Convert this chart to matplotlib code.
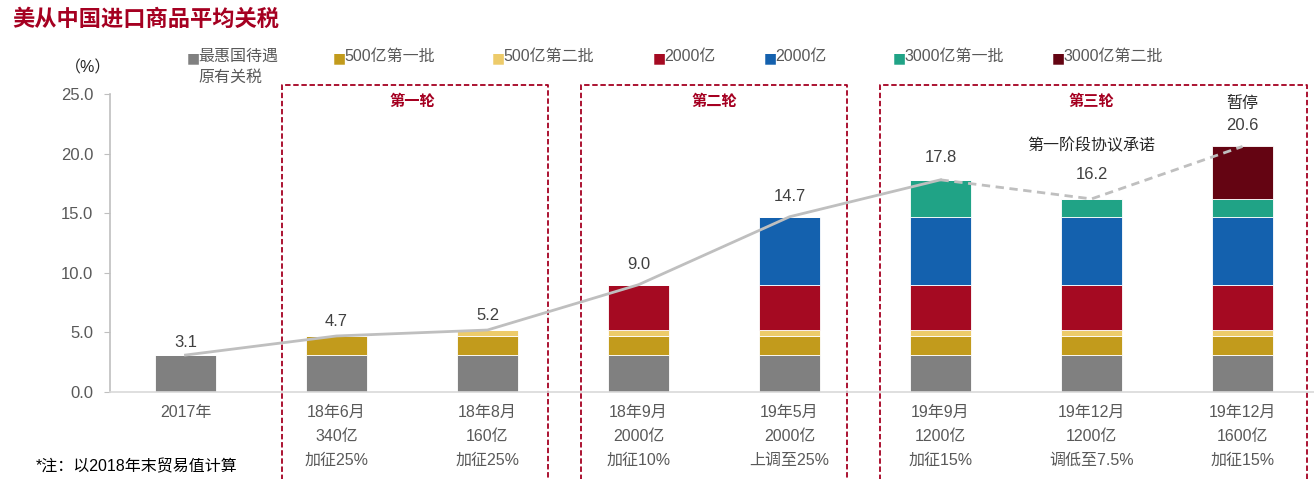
import matplotlib.pyplot as plt
import matplotlib.transforms as mtransforms
import numpy as np

plt.rcParams['font.family'] = ['Liberation Sans', 'Noto Sans CJK SC']

# Data
categories = ['2017年', '18年6月\n340亿\n加征25%', '18年8月\n160亿\n加征25%',
              '18年9月\n2000亿\n加征10%', '19年5月\n2000亿\n上调至25%',
              '19年9月\n1200亿\n加征15%', '19年12月\n1200亿\n调低至7.5%',
              '19年12月\n1600亿\n加征15%']
series_names = ['最惠国待遇\n原有关税', '500亿第一批', '500亿第二批', '2000亿', '2000亿',
                '3000亿第一批', '3000亿第二批']
mfn = [3.1, 3.1, 3.1, 3.1, 3.1, 3.1, 3.1, 3.1]
batch_500_1 = [0, 1.6, 1.6, 1.6, 1.6, 1.6, 1.6, 1.6]
batch_500_2 = [0, 0, 0.5, 0.5, 0.5, 0.5, 0.5, 0.5]
batch_2000_a = [0, 0, 0, 3.8, 3.8, 3.8, 3.8, 3.8]
batch_2000_b = [0, 0, 0, 0, 5.7, 5.7, 5.7, 5.7]
batch_3000_1 = [0, 0, 0, 0, 0, 3.1, 1.5, 1.5]
batch_3000_2 = [0, 0, 0, 0, 0, 0, 0, 4.4]
totals = [3.1, 4.7, 5.2, 9.0, 14.7, 17.8, 16.2, 20.6]
rounds = ['第一轮', '第二轮', '第三轮']

colors = ['#808080', '#C29B1C', '#EDCB6A', '#A50A22', '#1461AE', '#20A386', '#640412']
series = [mfn, batch_500_1, batch_500_2, batch_2000_a, batch_2000_b, batch_3000_1, batch_3000_2]
red = '#A50021'
txt = '#595959'

fig = plt.figure(figsize=(13.14, 4.79), dpi=100)
ax = fig.add_axes([110 / 1314, 87 / 479, 1204 / 1314, 298 / 479])

x = np.arange(len(categories))
bottom = np.zeros(len(categories))
for vals, c in zip(series, colors):
    vals = np.array(vals, dtype=float)
    ax.bar(x, vals, 0.4, bottom=bottom, color=c, edgecolor='white', linewidth=0.6, zorder=2)
    bottom += vals

# trend line: solid up to 19年9月, dashed afterwards
ax.plot(x[:6], totals[:6], color='#BFBFBF', lw=2, zorder=3)
ax.plot(x[5:], totals[5:], color='#BFBFBF', lw=2, ls=(0, (3, 2)), zorder=3)

# value labels (offset in pixels above bar top)
offsets = [13, 14, 15, 20, 20, 22, 24, 21]
for i, (t, o) in enumerate(zip(totals, offsets)):
    ax.annotate(f'{t:.1f}', (i, t), xytext=(0, o * 0.72), textcoords='offset points',
                ha='center', va='center', fontsize=12, color='#404040')
ax.text(7, 24.2, '暂停', ha='center', va='center', fontsize=11.5, color='#262626')
ax.text(6, 20.7, '第一阶段协议承诺', ha='center', va='center', fontsize=11.5, color='#262626')

ax.set_xlim(-0.5, -0.5 + 1204 / 151)
ax.set_ylim(0, 25)
ax.set_yticks(np.arange(0, 25.1, 5))
ax.set_yticklabels([f'{v:.1f}' for v in np.arange(0, 25.1, 5)])
ax.set_xticks(x)
ax.set_xticklabels(categories, linespacing=1.75)
ax.tick_params(axis='x', length=0, pad=9, labelsize=11.5, colors=txt)
ax.tick_params(axis='y', length=4, color='#BFBFBF', labelsize=12, colors=txt, pad=8)
for s in ['top', 'right']:
    ax.spines[s].set_visible(False)
ax.spines['left'].set_color('#BFBFBF')
ax.spines['bottom'].set_color('#D9D9D9')
ax.spines['left'].set_linewidth(1.2)
ax.spines['bottom'].set_linewidth(1.2)

# round boxes
trans = mtransforms.blended_transform_factory(ax.transData, fig.transFigure)
box_top = 394 / 479
spans = [(0.64, 2.40), (2.62, 4.38), (4.60, 7.43)]
label_x = [1.5, 3.5, 6.0]
for (l, r), lx, name in zip(spans, label_x, rounds):
    ax.plot([l, l, r, r], [-0.05, box_top, box_top, -0.05], transform=trans,
            color=red, lw=1.3, ls=(0, (3, 1.5)), clip_on=False, zorder=1)
    ax.text(lx, 377 / 479, name, transform=trans, ha='center', va='center',
            fontsize=11, color=red, fontweight='bold')

# legend
leg_x = [187, 333, 492, 653, 764, 893, 1052]
for lx, c, name in zip(leg_x, colors, series_names):
    fig.text(lx / 1314, 421 / 479, '■', color=c, fontsize=10, ha='left', va='center',
             family=['DejaVu Sans'])
    fig.text((lx + 11) / 1314, 430 / 479, name, color=txt, fontsize=11.5,
             ha='left', va='top', linespacing=1.45)

fig.text(88 / 1314, 411 / 479, '（%）', ha='center', va='center', fontsize=11.5, color='#262626')
fig.text(12 / 1314, 459 / 479, '美从中国进口商品平均关税', ha='left', va='center',
         fontsize=16, fontweight='bold', color=red)
fig.text(36 / 1314, 12 / 479, '*注：以2018年末贸易值计算', ha='left', va='center',
         fontsize=11.5, color='#000000')

fig.savefig('out.png', dpi=100)
